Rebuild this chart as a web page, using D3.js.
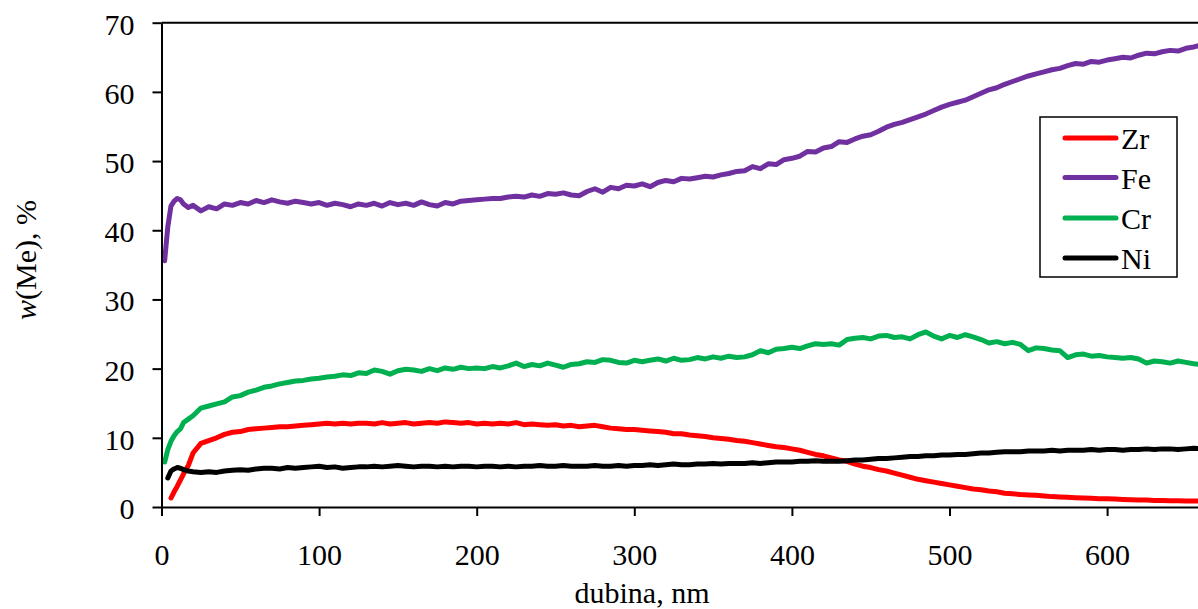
<!DOCTYPE html>
<html>
<head>
<meta charset="utf-8">
<script src="https://cdn.jsdelivr.net/npm/d3@7"></script>
<style>
  html, body { margin: 0; padding: 0; background: #fff; overflow: hidden; }
  svg { display: block; }
  text { font-family: "Times New Roman", "Liberation Serif", serif; fill: #000; }
</style>
</head>
<body>
<svg id="chart" width="1198" height="609"></svg>
<script>
// ---- data ----
const depthEarly = [2, 4, 6, 8, 10, 12, 14, 17];
const depth = depthEarly.concat(d3.range(20, 661, 5)); // nm

const seriesNames = ["Zr", "Fe", "Cr", "Ni"];
const seriesColors = ["#ff0000", "#7030a0", "#00b050", "#000000"];

const zr = [null, null, 1.3, 2.2, 3.0, 3.9, 4.8, 6.0,
  7.8, 9.2, 9.6, 10.0, 10.5, 10.8, 10.9, 11.2, 11.3, 11.4,
  11.5, 11.6, 11.6, 11.7, 11.8, 11.9, 12.0, 12.1, 12.0, 12.1,
  12.0, 12.1, 12.1, 12.0, 12.2, 12.0, 12.1, 12.2, 12.0, 12.1,
  12.2, 12.1, 12.3, 12.2, 12.1, 12.2, 12.0, 12.1, 12.0, 12.1,
  12.0, 12.2, 11.9, 12.0, 11.9, 11.8, 11.9, 11.7, 11.8, 11.6,
  11.7, 11.8, 11.6, 11.4, 11.3, 11.2, 11.2, 11.1, 11.0, 10.9,
  10.8, 10.6, 10.6, 10.4, 10.3, 10.2, 10.0, 9.9, 9.8, 9.6,
  9.5, 9.3, 9.1, 8.9, 8.7, 8.6, 8.4, 8.2, 7.9, 7.6,
  7.4, 7.1, 6.8, 6.6, 6.2, 5.9, 5.7, 5.4, 5.2, 4.9,
  4.6, 4.3, 4.0, 3.8, 3.6, 3.4, 3.2, 3.0, 2.8, 2.6,
  2.5, 2.3, 2.2, 2.0, 1.9, 1.8, 1.75, 1.7, 1.6, 1.5,
  1.45, 1.4, 1.35, 1.3, 1.25, 1.2, 1.2, 1.15, 1.1, 1.05,
  1.0, 1.0, 0.95, 0.95, 0.9, 0.9, 0.88, 0.85, 0.85];

const fe = [35.6, 40.5, 43.5, 44.2, 44.6, 44.4, 43.8, 43.3,
  43.6, 42.8, 43.4, 43.1, 43.8, 43.6, 44.0, 43.8, 44.3, 44.0,
  44.4, 44.1, 43.9, 44.2, 44.0, 43.8, 44.0, 43.6, 43.9, 43.7,
  43.4, 43.8, 43.6, 43.9, 43.5, 44.0, 43.7, 43.9, 43.6, 44.1,
  43.7, 43.5, 44.0, 43.8, 44.2, 44.3, 44.4, 44.5, 44.6, 44.6,
  44.8, 44.9, 44.8, 45.1, 44.9, 45.3, 45.2, 45.4, 45.1, 45.0,
  45.6, 46.0, 45.5, 46.2, 46.0, 46.5, 46.4, 46.7, 46.3, 46.9,
  47.2, 47.0, 47.5, 47.4, 47.6, 47.8, 47.7, 48.0, 48.2, 48.5,
  48.6, 49.2, 48.9, 49.6, 49.5, 50.2, 50.4, 50.7, 51.4, 51.3,
  51.9, 52.1, 52.8, 52.7, 53.2, 53.6, 53.8, 54.3, 54.9, 55.3,
  55.6, 56.0, 56.4, 56.8, 57.3, 57.8, 58.2, 58.5, 58.8, 59.3,
  59.8, 60.3, 60.6, 61.1, 61.5, 61.9, 62.3, 62.6, 62.9, 63.2,
  63.4, 63.8, 64.1, 64.0, 64.4, 64.3, 64.6, 64.8, 65.0, 64.9,
  65.3, 65.6, 65.5, 65.8, 66.0, 65.9, 66.3, 66.5, 66.8];

const cr = [6.5, 8.3, 9.5, 10.3, 10.9, 11.3, 12.2, 12.7,
  13.2, 14.3, 14.6, 14.9, 15.2, 15.9, 16.1, 16.6, 16.9, 17.3,
  17.5, 17.8, 18.0, 18.2, 18.3, 18.5, 18.6, 18.8, 18.9, 19.1,
  19.0, 19.4, 19.3, 19.8, 19.6, 19.2, 19.7, 19.9, 19.8, 19.6,
  20.0, 19.7, 20.1, 19.9, 20.2, 20.0, 20.1, 20.0, 20.3, 20.1,
  20.4, 20.8, 20.3, 20.6, 20.4, 20.8, 20.5, 20.2, 20.6, 20.7,
  21.0, 20.9, 21.3, 21.2, 20.9, 20.8, 21.2, 21.0, 21.2, 21.4,
  21.1, 21.5, 21.2, 21.3, 21.6, 21.4, 21.7, 21.5, 21.8, 21.6,
  21.7, 22.0, 22.6, 22.3, 22.8, 22.9, 23.1, 22.9, 23.3, 23.6,
  23.5, 23.6, 23.4, 24.2, 24.4, 24.5, 24.3, 24.7, 24.8, 24.5,
  24.6, 24.3, 24.9, 25.3, 24.7, 24.3, 24.8, 24.5, 24.9, 24.6,
  24.2, 23.7, 23.9, 23.6, 23.8, 23.5, 22.6, 23.0, 22.9, 22.7,
  22.6, 21.6, 22.0, 22.1, 21.8, 21.9, 21.7, 21.6, 21.5, 21.6,
  21.4, 20.8, 21.1, 21.0, 20.8, 21.1, 20.9, 20.7, 20.6];

const ni = [null, 4.2, 5.2, 5.5, 5.7, 5.6, 5.4, 5.2,
  5.1, 5.0, 5.1, 5.0, 5.2, 5.3, 5.4, 5.3, 5.5, 5.6,
  5.6, 5.5, 5.7, 5.6, 5.7, 5.8, 5.9, 5.7, 5.8, 5.6,
  5.7, 5.8, 5.8, 5.9, 5.8, 5.9, 6.0, 5.9, 5.8, 5.9,
  5.9, 5.8, 5.9, 5.8, 5.9, 5.9, 5.8, 5.9, 5.9, 5.8,
  5.9, 5.8, 5.9, 5.9, 6.0, 5.9, 5.9, 6.0, 5.9, 5.9,
  5.9, 6.0, 5.9, 5.9, 6.0, 5.9, 6.0, 6.0, 6.1, 6.0,
  6.1, 6.2, 6.1, 6.1, 6.2, 6.2, 6.3, 6.2, 6.3, 6.3,
  6.3, 6.4, 6.3, 6.4, 6.5, 6.5, 6.5, 6.6, 6.6, 6.7,
  6.6, 6.6, 6.6, 6.7, 6.8, 6.8, 6.9, 7.0, 7.0, 7.1,
  7.2, 7.3, 7.3, 7.4, 7.4, 7.5, 7.5, 7.6, 7.6, 7.7,
  7.8, 7.8, 7.9, 8.0, 8.0, 8.0, 8.1, 8.1, 8.1, 8.2,
  8.1, 8.2, 8.2, 8.2, 8.3, 8.2, 8.3, 8.3, 8.2, 8.3,
  8.3, 8.4, 8.3, 8.4, 8.4, 8.3, 8.4, 8.5, 8.4];

const xTicks = [0, 100, 200, 300, 400, 500, 600];
const yTicks = [0, 10, 20, 30, 40, 50, 60, 70];
const xTitle = "dubina, nm";

// ---- chart ----
const svg = d3.select("#chart");
const pLeft = 161.5, pRight = 1264.7, pTop = 22.7, pBottom = 507;
const x = d3.scaleLinear().domain([0, 700]).range([pLeft, pRight]);
const y = d3.scaleLinear().domain([0, 70]).range([pBottom, pTop]);
const FS = 30;

// series
const allSeries = [zr, fe, cr, ni];
const line = d3.line()
  .defined(d => d[1] != null)
  .x(d => x(d[0]))
  .y(d => y(d[1]));

svg.append("defs").append("clipPath").attr("id", "plotclip")
  .append("rect").attr("x", pLeft).attr("y", 0).attr("width", pRight - pLeft).attr("height", pBottom + 3);

const g = svg.append("g").attr("clip-path", "url(#plotclip)");
allSeries.forEach((vals, i) => {
  g.append("path")
    .datum(depth.map((d, j) => [d, vals[j]]))
    .attr("d", line)
    .attr("fill", "none")
    .attr("stroke", seriesColors[i])
    .attr("stroke-width", 5)
    .attr("stroke-linejoin", "round")
    .attr("stroke-linecap", "round");
});

// axes
const yAxis = svg.append("g").attr("transform", `translate(${pLeft},0)`)
  .call(d3.axisLeft(y).tickValues(yTicks).tickSize(9).tickSizeOuter(0).tickPadding(18));
yAxis.selectAll("text").attr("font-size", FS).attr("dy", "0.38em")
  .style("font-family", '"Times New Roman", "Liberation Serif", serif');

const xAxis = svg.append("g").attr("transform", `translate(0,${pBottom})`)
  .call(d3.axisBottom(x).tickValues(xTicks).tickSize(9).tickSizeOuter(0));
xAxis.selectAll("text").attr("font-size", FS).attr("y", 58).attr("dy", 0)
  .style("font-family", '"Times New Roman", "Liberation Serif", serif');

[yAxis, xAxis].forEach(a => {
  a.selectAll("path.domain").attr("stroke", "#000").attr("stroke-width", 2);
  a.selectAll(".tick line").attr("stroke", "#000").attr("stroke-width", 2);
});

// top frame line
svg.append("line")
  .attr("x1", pLeft).attr("x2", pRight)
  .attr("y1", pTop).attr("y2", pTop)
  .attr("stroke", "#000").attr("stroke-width", 2);

// axis titles
svg.append("text")
  .attr("x", 642).attr("y", 603)
  .attr("text-anchor", "middle")
  .attr("font-size", FS)
  .text(xTitle);

const yt = svg.append("text")
  .attr("transform", "translate(36,260) rotate(-90)")
  .attr("text-anchor", "middle")
  .attr("font-size", FS);
yt.append("tspan").attr("font-style", "italic").text("w");
yt.append("tspan").text("(Me), %");

// legend
const lg = svg.append("g");
lg.append("rect")
  .attr("x", 1040).attr("y", 117).attr("width", 137).attr("height", 160)
  .attr("fill", "#fff").attr("stroke", "#000").attr("stroke-width", 1.5);
const rowY = [138, 177.5, 218, 258];
seriesNames.forEach((name, i) => {
  lg.append("line")
    .attr("x1", 1065).attr("x2", 1116)
    .attr("y1", rowY[i]).attr("y2", rowY[i])
    .attr("stroke", seriesColors[i]).attr("stroke-width", 5)
    .attr("stroke-linecap", "round");
  lg.append("text")
    .attr("x", 1121).attr("y", rowY[i] + 11)
    .attr("font-size", FS)
    .text(name);
});
</script>
</body>
</html>
